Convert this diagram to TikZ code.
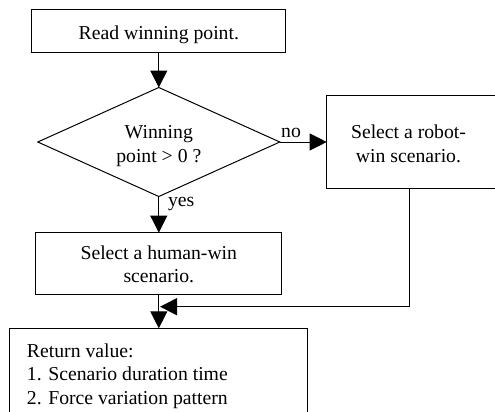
\documentclass[tikz,border=0pt]{standalone}
\usepackage{fontspec}
\setmainfont{Liberation Serif}
\usetikzlibrary{shapes.geometric,arrows.meta}
\begin{document}
\begin{tikzpicture}[x=1pt,y=-1pt,
  box/.style={draw, line width=1pt, inner sep=0pt, outer sep=0pt},
  txt/.style={inner sep=0pt, outer sep=0pt, font=\fontsize{19.7}{23.5}\selectfont, align=center},
  arr/.style={line width=1pt, -{Triangle[length=17pt,width=17pt]}}]
\useasboundingbox (0,0) rectangle (495,412);
\clip (0,0) rectangle (495,412);
% boxes
\node[box, minimum width=254pt, minimum height=42.7pt] (read) at (158.8,31.3) {};
\node[txt, anchor=base] (readtxt) at (158.8,39.5) {Read winning point.};
\node[box, diamond, minimum width=242pt, minimum height=109pt] (dec) at (158.8,142) {};
\node[txt, anchor=north] (dectxt) at (158.8,125.5) {Winning\\point > 0 ?};
\node[box, minimum width=193.3pt, minimum height=93.3pt] (robot) at (423.35,141.7) {};
\node[txt, anchor=north] (robottxt) at (408.5,125) {Select a robot-\\win scenario.};
\node[box, minimum width=246pt, minimum height=62.3pt] (human) at (158.8,263.8) {};
\node[txt, anchor=north] (humantxt) at (158.8,245.5) {Select a human-win\\scenario.};
\node[box, minimum width=298pt, minimum height=121.7pt] (ret) at (158.3,389.15) {};
\node[txt, anchor=north west, align=left] (rettxt) at (27,343.5) {Return value:\\1. Scenario duration time\\2. Force variation pattern};
% labels
\node[txt, anchor=base] (no) at (291,137) {no};
\node[txt, anchor=base west] (yes) at (168,206) {yes};
% connectors
\coordinate (rdown) at (409.3,188.3);
\coordinate (merge) at (160,306.7);
\draw[arr] (read.south) -- (dec.north);
\draw[arr] (dec.east) -- (dec.east -| robot.west);
\draw[arr] (dec.south) -- (human.north);
\draw[arr] (human.south) -- (human.south |- ret.north);
\draw[arr] (rdown) |- (merge);
\end{tikzpicture}
\end{document}
